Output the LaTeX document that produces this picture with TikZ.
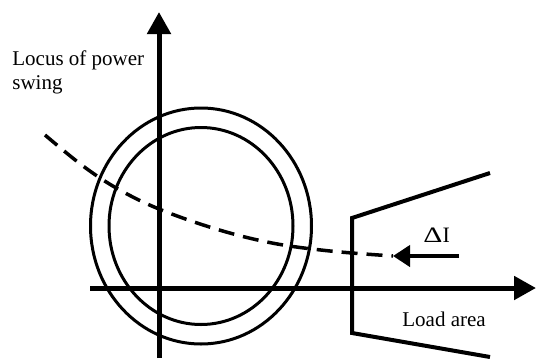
\documentclass[tikz,border=0pt]{standalone}
\usepackage{fontspec}
\setmainfont{Liberation Serif}
\usetikzlibrary{arrows.meta}

\begin{document}
\begin{tikzpicture}[
  x=0.5pt,y=-0.5pt,
  axis/.style={line width=2.5pt,-{Triangle[length=11pt,width=11.5pt]}},
  ring/.style={line width=1.5pt},
  zone/.style={line width=2pt},
  swing/.style={line width=1.75pt,dash pattern=on 8pt off 4.5pt},
  push/.style={line width=2pt,-{Triangle[length=8.5pt,width=10.5pt]}},
  txt/.style={inner sep=0pt,anchor=base west,align=left,
              font=\fontsize{10.5}{12}\selectfont},
]
  \useasboundingbox (0,0) rectangle (536,360);
  %% axes
  \coordinate (xs) at (90,288);
  \coordinate (xe) at (536,288);
  \coordinate (ys) at (159,358);
  \coordinate (ye) at (159,12);
  \draw[axis] (xs) -- (xe);
  \draw[axis] (ys) -- (ye);
  %% relay characteristics
  \coordinate (ctr) at (201,226);
  \draw[ring] (ctr) ellipse [x radius=55.25pt,y radius=59pt];
  \draw[ring] (ctr) ellipse [x radius=46pt,y radius=49.25pt];
  %% load area
  \coordinate (la1) at (490,173);
  \coordinate (la2) at (352,218);
  \coordinate (la3) at (352,333);
  \coordinate (la4) at (490,357);
  \draw[zone] (la1) -- (la2) -- (la3) -- (la4);
  %% power swing locus
  \coordinate (tip) at (393,256);
  \coordinate (tail) at (459,256);
  \draw[swing] plot[smooth,tension=0.6] coordinates
    {(45,135) (83,166) (118,189) (159,209) (216,229) (272,243) (330,251) (tip)};
  \draw[push] (tail) -- (tip);
  \node[txt] (locus) at (12,89) {Locus of power\\swing};
  \node[txt,font=\fontsize{11}{13}\selectfont] (dI) at (423,242)
    {\scalebox{1.35}[1]{Δ}I};
  \node[txt] (load) at (402,326) {Load area};
\end{tikzpicture}
\end{document}
